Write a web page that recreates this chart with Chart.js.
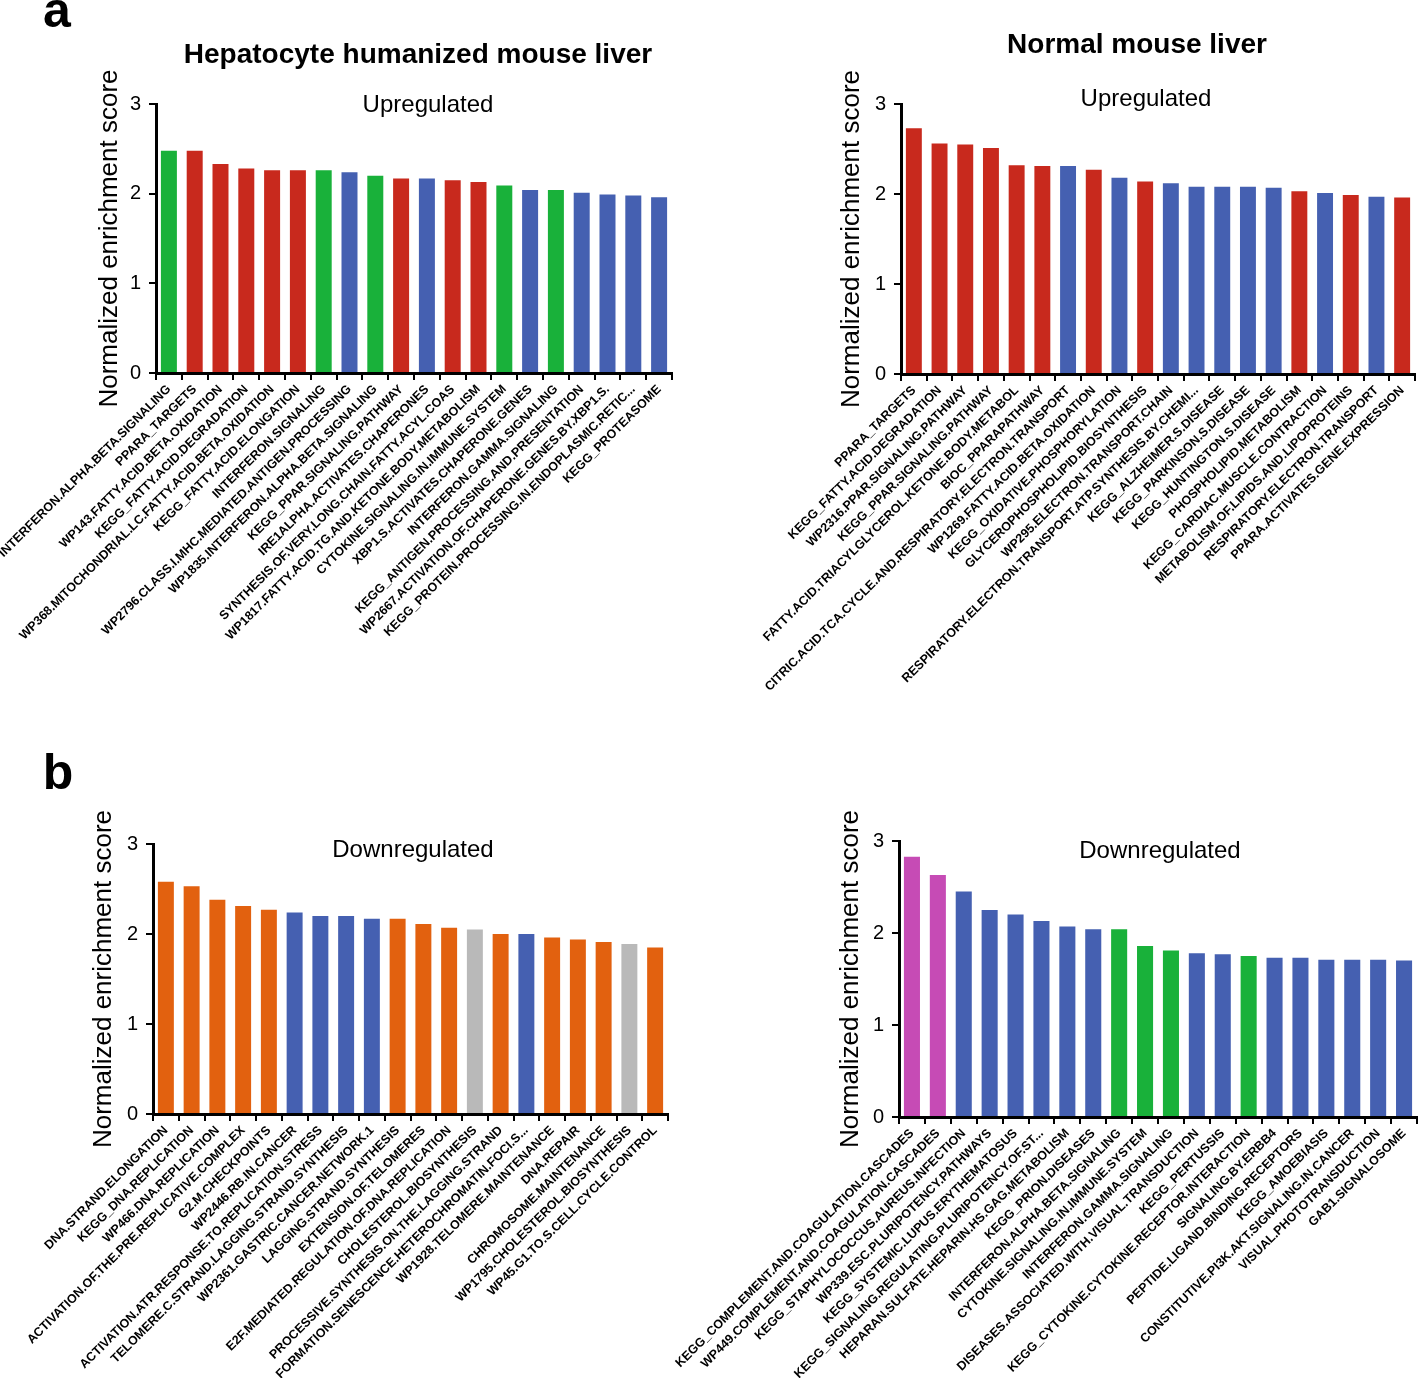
<!DOCTYPE html>
<html>
<head>
<meta charset="utf-8">
<script src="https://cdn.jsdelivr.net/npm/chart.js@4.4.1/dist/chart.umd.min.js"></script>
<style>
  body { margin: 0; background: #fff; width: 1418px; height: 1378px; position: relative; overflow: hidden;
         font-family: 'Liberation Sans', Arial, sans-serif; }
  canvas { position: absolute; }
  .txt { position: absolute; white-space: nowrap; color: #000; line-height: 1; transform: translateX(-50%); }
</style>
</head>
<body>

<canvas id="upHuman" width="700" height="670" style="left:0px;top:50px"></canvas>
<canvas id="upNormal" width="718" height="670" style="left:700px;top:50px"></canvas>
<canvas id="downHuman" width="700" height="588" style="left:0px;top:790px"></canvas>
<canvas id="downNormal" width="758" height="588" style="left:660px;top:790px"></canvas>

<script>
const FONT = "'Liberation Sans', Arial, sans-serif";

// pathway labels are set in a condensed bold face when one is installed
function hasFont(name) {
    const c = document.createElement('canvas').getContext('2d');
    c.font = 'bold 20px monospace';
    const base = c.measureText('INTERFERON.ALPHA').width;
    c.font = "bold 20px '" + name + "', monospace";
    return c.measureText('INTERFERON.ALPHA').width !== base;
}
const narrow = hasFont('Liberation Sans Narrow');
const LABEL_FONT = narrow
    ? { family: "'Liberation Sans Narrow', 'Liberation Sans', Arial, sans-serif", size: 15, weight: 'bold' }
    : { family: FONT, size: 12.5, weight: 'bold' };

// group code -> bar colour
const groupColors = {
    R: '#c8291d',
    G: '#19b13a',
    B: '#4560b1',
    O: '#e2610f',
    S: '#b9b9b9',
    M: '#c64bb5'
};

// a: humanized liver, upregulated
const humanUpLabels = [
    'INTERFERON.ALPHA.BETA.SIGNALING',
    'PPARA_TARGETS',
    'WP143.FATTY.ACID.BETA.OXIDATION',
    'KEGG_FATTY.ACID.DEGRADATION',
    'WP368.MITOCHONDRIAL.LC.FATTY.ACID.BETA.OXIDATION',
    'KEGG_FATTY.ACID.ELONGATION',
    'INTERFERON.SIGNALING',
    'WP2796.CLASS.I.MHC.MEDIATED.ANTIGEN.PROCESSING',
    'WP1835.INTERFERON.ALPHA.BETA.SIGNALING',
    'KEGG_PPAR.SIGNALING.PATHWAY',
    'IRE1ALPHA.ACTIVATES.CHAPERONES',
    'SYNTHESIS.OF.VERY.LONG.CHAIN.FATTY.ACYL.COAS',
    'WP1817.FATTY.ACID.TG.AND.KETONE.BODY.METABOLISM',
    'CYTOKINE.SIGNALING.IN.IMMUNE.SYSTEM',
    'XBP1.S.ACTIVATES.CHAPERONE.GENES',
    'INTERFERON.GAMMA.SIGNALING',
    'KEGG_ANTIGEN.PROCESSING.AND.PRESENTATION',
    'WP2667.ACTIVATION.OF.CHAPERONE.GENES.BY.XBP1.S.',
    'KEGG_PROTEIN.PROCESSING.IN.ENDOPLASMIC.RETIC...',
    'KEGG_PROTEASOME'
];
const humanUpScores = [2.48, 2.48, 2.33, 2.28, 2.26, 2.26, 2.26, 2.24, 2.20, 2.17,
                       2.17, 2.15, 2.13, 2.09, 2.04, 2.04, 2.01, 1.99, 1.98, 1.96];
const humanUpGroups = ['G', 'R', 'R', 'R', 'R', 'R', 'G', 'B', 'G', 'R',
                       'B', 'R', 'R', 'G', 'B', 'G', 'B', 'B', 'B', 'B'];

// a: normal liver, upregulated
const normalUpLabels = [
    'PPARA_TARGETS',
    'KEGG_FATTY.ACID.DEGRADATION',
    'WP2316.PPAR.SIGNALING.PATHWAY',
    'KEGG_PPAR.SIGNALING.PATHWAY',
    'FATTY.ACID.TRIACYLGLYCEROL.KETONE.BODY.METABOL',
    'BIOC_PPARAPATHWAY',
    'CITRIC.ACID.TCA.CYCLE.AND.RESPIRATORY.ELECTRON.TRANSPORT',
    'WP1269.FATTY.ACID.BETA.OXIDATION',
    'KEGG_OXIDATIVE.PHOSPHORYLATION',
    'GLYCEROPHOSPHOLIPID.BIOSYNTHESIS',
    'WP295.ELECTRON.TRANSPORT.CHAIN',
    'RESPIRATORY.ELECTRON.TRANSPORT.ATP.SYNTHESIS.BY.CHEMI...',
    'KEGG_ALZHEIMER.S.DISEASE',
    'KEGG_PARKINSON.S.DISEASE',
    'KEGG_HUNTINGTON.S.DISEASE',
    'PHOSPHOLIPID.METABOLISM',
    'KEGG_CARDIAC.MUSCLE.CONTRACTION',
    'METABOLISM.OF.LIPIDS.AND.LIPOPROTEINS',
    'RESPIRATORY.ELECTRON.TRANSPORT',
    'PPARA.ACTIVATES.GENE.EXPRESSION'
];
const normalUpScores = [2.73, 2.56, 2.55, 2.51, 2.32, 2.31, 2.31, 2.27, 2.18, 2.14,
                        2.12, 2.08, 2.08, 2.08, 2.07, 2.03, 2.01, 1.99, 1.97, 1.96];
const normalUpGroups = ['R', 'R', 'R', 'R', 'R', 'R', 'B', 'R', 'B', 'R',
                        'B', 'B', 'B', 'B', 'B', 'R', 'B', 'R', 'B', 'R'];

// b: humanized liver, downregulated
const humanDownLabels = [
    'DNA.STRAND.ELONGATION',
    'KEGG_DNA.REPLICATION',
    'WP466.DNA.REPLICATION',
    'ACTIVATION.OF.THE.PRE.REPLICATIVE.COMPLEX',
    'G2.M.CHECKPOINTS',
    'WP2446.RB.IN.CANCER',
    'ACTIVATION.ATR.RESPONSE.TO.REPLICATION.STRESS',
    'TELOMERE.C.STRAND.LAGGING.STRAND.SYNTHESIS',
    'WP2361.GASTRIC.CANCER.NETWORK.1',
    'LAGGING.STRAND.SYNTHESIS',
    'EXTENSION.OF.TELOMERES',
    'E2F.MEDIATED.REGULATION.OF.DNA.REPLICATION',
    'CHOLESTEROL.BIOSYNTHESIS',
    'PROCESSIVE.SYNTHESIS.ON.THE.LAGGING.STRAND',
    'FORMATION.SENESCENCE.HETEROCHROMATIN.FOCI.S...',
    'WP1928.TELOMERE.MAINTENANCE',
    'DNA.REPAIR',
    'CHROMOSOME.MAINTENANCE',
    'WP1795.CHOLESTEROL.BIOSYNTHESIS',
    'WP45.G1.TO.S.CELL.CYCLE.CONTROL'
];
const humanDownScores = [2.58, 2.53, 2.38, 2.31, 2.27, 2.24, 2.20, 2.20, 2.17, 2.17,
                         2.11, 2.07, 2.05, 2.00, 2.00, 1.96, 1.94, 1.91, 1.89, 1.85];
const humanDownGroups = ['O', 'O', 'O', 'O', 'O', 'B', 'B', 'B', 'B', 'O',
                         'O', 'O', 'S', 'O', 'B', 'O', 'O', 'O', 'S', 'O'];

// b: normal liver, downregulated
const normalDownLabels = [
    'KEGG_COMPLEMENT.AND.COAGULATION.CASCADES',
    'WP449.COMPLEMENT.AND.COAGULATION.CASCADES',
    'KEGG_STAPHYLOCOCCUS.AUREUS.INFECTION',
    'WP339.ESC.PLURIPOTENCY.PATHWAYS',
    'KEGG_SYSTEMIC.LUPUS.ERYTHEMATOSUS',
    'KEGG_SIGNALING.REGULATING.PLURIPOTENCY.OF.ST...',
    'HEPARAN.SULFATE.HEPARIN.HS.GAG.METABOLISM',
    'KEGG_PRION.DISEASES',
    'INTERFERON.ALPHA.BETA.SIGNALING',
    'CYTOKINE.SIGNALING.IN.IMMUNE.SYSTEM',
    'INTERFERON.GAMMA.SIGNALING',
    'DISEASES.ASSOCIATED.WITH.VISUAL.TRANSDUCTION',
    'KEGG_PERTUSSIS',
    'KEGG_CYTOKINE.CYTOKINE.RECEPTOR.INTERACTION',
    'SIGNALING.BY.ERBB4',
    'PEPTIDE.LIGAND.BINDING.RECEPTORS',
    'KEGG_AMOEBIASIS',
    'CONSTITUTIVE.PI3K.AKT.SIGNALING.IN.CANCER',
    'VISUAL.PHOTOTRANSDUCTION',
    'GAB1.SIGNALOSOME'
];
const normalDownScores = [2.83, 2.63, 2.45, 2.25, 2.20, 2.13, 2.07, 2.04, 2.04, 1.86,
                          1.81, 1.78, 1.77, 1.75, 1.73, 1.73, 1.71, 1.71, 1.71, 1.70];
const normalDownGroups = ['M', 'M', 'B', 'B', 'B', 'B', 'B', 'B', 'G', 'G',
                          'G', 'B', 'B', 'G', 'B', 'B', 'B', 'B', 'B', 'B'];

const scoreTicks = [0, 1, 2, 3];

function drawChart(id, labels, scores, groups, pad, yWidth, xHeight) {
    const ctx = document.getElementById(id);
    return new Chart(ctx, {
        type: 'bar',
        data: {
            labels: labels,
            datasets: [{
                data: scores,
                backgroundColor: groups.map(g => groupColors[g]),
                borderWidth: 0,
                barPercentage: 0.62,
                categoryPercentage: 1
            }]
        },
        options: {
            responsive: false,
            animation: false,
            devicePixelRatio: 1,
            layout: { padding: pad },
            plugins: { legend: { display: false }, tooltip: { enabled: false } },
            scales: {
                x: {
                    grid: { drawOnChartArea: false, drawTicks: true, tickLength: 7, color: '#000', lineWidth: 2, offset: true },
                    border: { display: true, color: '#000', width: 3 },
                    ticks: {
                        autoSkip: false, minRotation: 45, maxRotation: 45, padding: 2, color: '#000',
                        font: LABEL_FONT
                    },
                    afterFit: s => { s.height = xHeight; s.paddingLeft = 0; s.paddingRight = 0; }
                },
                y: {
                    min: scoreTicks[0],
                    max: scoreTicks[scoreTicks.length - 1],
                    afterBuildTicks: s => { s.ticks = scoreTicks.map(v => ({ value: v })); },
                    grid: { drawOnChartArea: false, drawTicks: true, tickLength: 7, color: '#000', lineWidth: 2 },
                    border: { display: true, color: '#000', width: 3 },
                    ticks: { padding: 8, color: '#000', font: { family: FONT, size: 20 } },
                    title: {
                        display: true, text: 'Normalized enrichment score', color: '#000', padding: 0,
                        font: { family: FONT, size: 26 }
                    },
                    afterFit: s => { s.width = yWidth; s.paddingTop = 0; s.paddingBottom = 0; }
                }
            }
        }
    });
}

drawChart('upHuman', humanUpLabels, humanUpScores, humanUpGroups,
    { left: 94, top: 54, right: 28, bottom: 0 }, 62, 347);
drawChart('upNormal', normalUpLabels, normalUpScores, normalUpGroups,
    { left: 136, top: 54, right: 3, bottom: 0 }, 65, 346);
drawChart('downHuman', humanDownLabels, humanDownScores, humanDownGroups,
    { left: 88, top: 54, right: 32, bottom: 0 }, 65, 264);
drawChart('downNormal', normalDownLabels, normalDownScores, normalDownGroups,
    { left: 175, top: 51, right: 1, bottom: 0 }, 64, 261);

// text placed by centre x and baseline y
function addText(text, cx, baseline, size, weight) {
    const el = document.createElement('div');
    el.className = 'txt';
    el.textContent = text;
    el.style.fontSize = size + 'px';
    el.style.fontWeight = weight;
    el.style.left = cx + 'px';
    el.style.top = (baseline - 0.8465 * size) + 'px';
    document.body.appendChild(el);
}

addText('a', 57, 27, 50, 'bold');
addText('b', 58, 789, 50, 'bold');
addText('Hepatocyte humanized mouse liver', 418, 64, 28, 'bold');
addText('Normal mouse liver', 1137, 54, 28, 'bold');
addText('Upregulated', 428, 112, 24, 'normal');
addText('Upregulated', 1146, 106, 24, 'normal');
addText('Downregulated', 413, 857, 24, 'normal');
addText('Downregulated', 1160, 858, 24, 'normal');
</script>
</body>
</html>
